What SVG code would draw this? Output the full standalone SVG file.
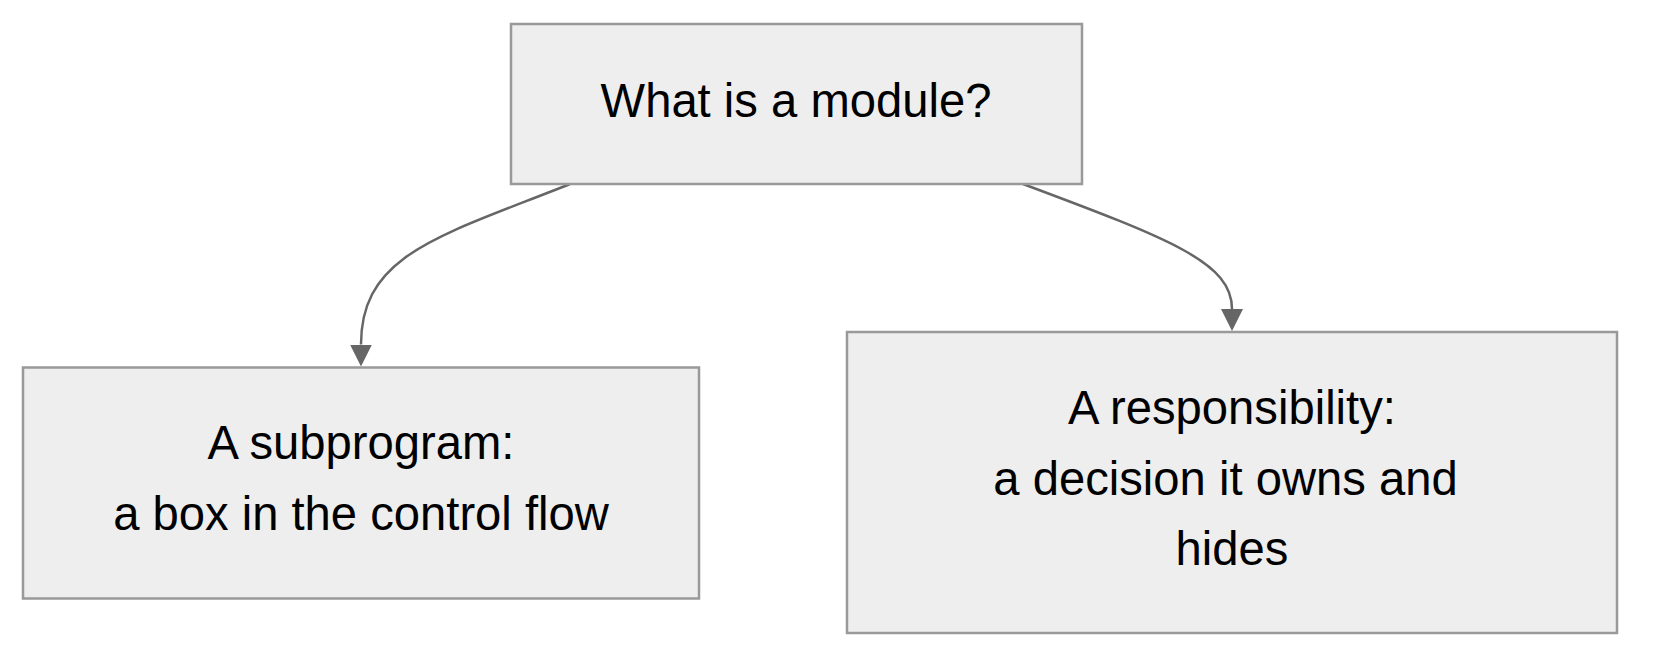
<svg xmlns="http://www.w3.org/2000/svg" width="1665" height="666" viewBox="0 0 1665 666">
<style>
.box{fill:#eeeeee;stroke:#999999;stroke-width:2.5}
.lbl{font-family:"Liberation Sans",Arial,sans-serif;font-size:47.2px;fill:#000000;text-anchor:middle}
.edge{fill:none;stroke:#666666;stroke-width:2.5}
</style>
<defs>
<marker id="arr" viewBox="0 0 23 22" refX="0" refY="11" markerWidth="23" markerHeight="22" markerUnits="userSpaceOnUse" orient="auto">
<path d="M0,0 L22,11 L0,22 z" fill="#666666"/>
</marker>
</defs>
<rect width="1665" height="666" fill="#ffffff"/>
<g id="edges">
<path class="edge" d="M570,184 C440,236 361,254 361,344.5" marker-end="url(#arr)"/>
<path class="edge" d="M1023,184 C1173,240 1232,263 1232,309" marker-end="url(#arr)"/>
</g>
<g id="node-top">
<rect class="box" x="511" y="24" width="571" height="160"/>
<text class="lbl" x="796" y="116.5">What is a module?</text>
</g>
<g id="node-subprogram">
<rect class="box" x="23" y="367.5" width="676" height="231"/>
<text class="lbl" x="361" y="459">A subprogram:</text>
<text class="lbl" x="361" y="530">a box in the control flow</text>
</g>
<g id="node-responsibility">
<rect class="box" x="847" y="332" width="770" height="301"/>
<text class="lbl" x="1232" y="424">A responsibility:</text>
<text class="lbl" x="1225.5" y="494.5">a decision it owns and</text>
<text class="lbl" x="1232" y="565">hides</text>
</g>
</svg>
